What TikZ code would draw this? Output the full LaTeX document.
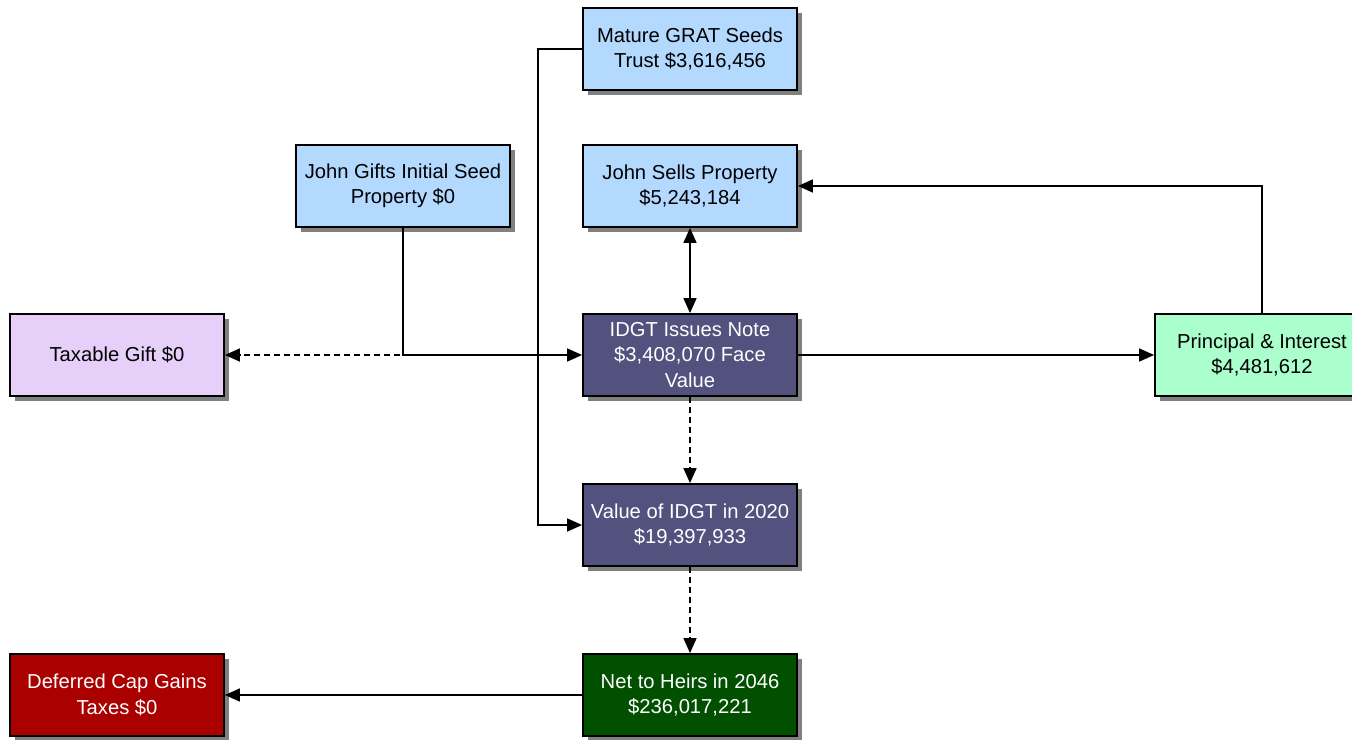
\documentclass[tikz,border=0pt]{standalone}
\usepackage{fontspec}
\setmainfont{Liberation Sans}
\usetikzlibrary{arrows.meta,shadows}
\definecolor{lblue}{RGB}{179,217,255}
\definecolor{lpurple}{RGB}{230,208,250}
\definecolor{lgreen}{RGB}{170,255,204}
\definecolor{dblue}{RGB}{83,81,125}
\definecolor{dred}{RGB}{170,0,0}
\definecolor{dgreen}{RGB}{0,80,0}
\definecolor{shadowgray}{RGB}{128,128,128}
\begin{document}
\begin{tikzpicture}[x=1pt,y=-1pt,
  box/.style={draw=black,line width=1.8pt,minimum width=214pt,minimum height=82pt,
    align=center,inner sep=0pt,font=\fontsize{20.2}{25.5}\selectfont,
    drop shadow={shadow xshift=5pt,shadow yshift=-5pt,fill=shadowgray,draw=none,opacity=1}},
  lightbox/.style={box,fill=lblue,text=black},
  darkbox/.style={box,fill=dblue,text=white},
  tip/.style={Triangle[length=15pt,width=13pt]},
  conn/.style={draw=black,line width=1.5pt,-{Triangle[length=15pt,width=13pt]}},
  dashconn/.style={conn,dash pattern=on 6pt off 4pt}]
\useasboundingbox (0,0) rectangle (1352,739);
\fill[white] (0,0) rectangle (1352,739);
\begin{scope}
\clip (0,0) rectangle (1352,739);
\node[lightbox] (grat) at (690,49) {Mature GRAT Seeds\\Trust \$3,616,456};
\node[lightbox] (sells) at (690,186) {John Sells Property\\\$5,243,184};
\node[lightbox] (gifts) at (403,186) {John Gifts Initial Seed\\Property \$0};
\node[darkbox] (idgt) at (690,355) {IDGT Issues Note\\\$3,408,070 Face\\Value};
\node[box,fill=lpurple] (taxable) at (117,355) {Taxable Gift \$0};
\node[box,fill=lgreen] (princ) at (1262,355) {Principal \& Interest\\\$4,481,612};
\node[darkbox] (value) at (690,525) {Value of IDGT in 2020\\\$19,397,933};
\node[box,fill=dgreen,text=white] (heirs) at (690,695) {Net to Heirs in 2046\\\$236,017,221};
\node[box,fill=dred,text=white] (deferred) at (117,695) {Deferred Cap Gains\\Taxes \$0};

\coordinate (gratbend) at (538,49);
\draw[conn] (grat.west) -- (gratbend) |- (value.west);
\draw[dashconn] (gifts.south) |- (taxable.east);
\draw[conn] (gifts.south) |- (idgt.west);
\draw[conn,{Triangle[length=15pt,width=13pt]}-{Triangle[length=15pt,width=13pt]}] (sells.south) -- (idgt.north);
\draw[conn] (idgt.east) -- (princ.west);
\draw[conn] (princ.north) |- (sells.east);
\draw[dashconn] (idgt.south) -- (value.north);
\draw[dashconn] (value.south) -- (heirs.north);
\draw[conn] (heirs.west) -- (deferred.east);
\end{scope}
\end{tikzpicture}
\end{document}
